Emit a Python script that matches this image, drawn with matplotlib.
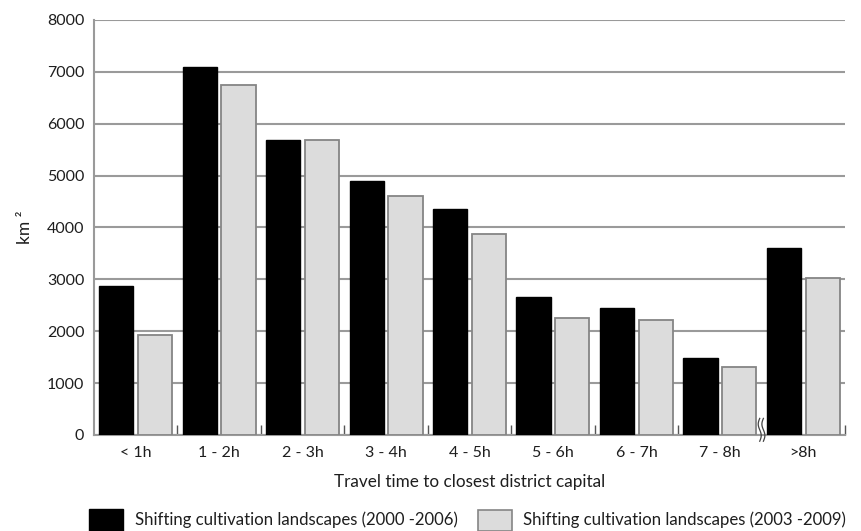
import matplotlib
matplotlib.use("Agg")
import matplotlib.pyplot as plt
import matplotlib.patches as mpatches
import matplotlib.transforms as mtrans
import numpy as np

plt.rcParams['font.family'] = ['Lato', 'DejaVu Sans']

categories = ["< 1h", "1 - 2h", "2 - 3h", "3 - 4h", "4 - 5h", "5 - 6h", "6 - 7h", "7 - 8h", ">8h"]
series_2000_2006 = [2880, 7100, 5680, 4900, 4350, 2660, 2450, 1480, 3600]
series_2003_2009 = [1920, 6750, 5680, 4600, 3880, 2250, 2220, 1320, 3020]
label_a = "Shifting cultivation landscapes (2000 -2006)"
label_b = "Shifting cultivation landscapes (2003 -2009)"
y_ticks = [0, 1000, 2000, 3000, 4000, 5000, 6000, 7000, 8000]

TXT = '#1e1e1e'
fig = plt.figure(figsize=(8.62, 5.31), dpi=100)
ax = fig.add_axes([94/862, 1-435/531, (845-94)/862, (435-20)/531])

x = np.arange(len(categories))
w = 0.41
off = 0.232
ax.bar(x - off, series_2000_2006, width=w, color='black', edgecolor='black', linewidth=1, zorder=3)
ax.bar(x + off, series_2003_2009, width=w, color='#dcdcdc', edgecolor='#858585', linewidth=1.3, zorder=3)

ax.set_xlim(-0.5, len(categories) - 0.5)
ax.set_ylim(0, 8000)
ax.set_yticks(y_ticks)
ax.set_yticklabels([str(v) for v in y_ticks], fontsize=11.5, color=TXT)
ax.yaxis.grid(True, color='#9a9a9a', linewidth=1.5, zorder=0)
ax.set_axisbelow(True)
ax.tick_params(axis='y', length=0, pad=7)

ax.set_xticks(x)
ax.set_xticklabels(categories, fontsize=11.5, color=TXT)
ax.tick_params(axis='x', length=0, pad=8)
bounds = [i + 0.5 for i in range(len(categories) - 1) if i != 7] + [len(categories) - 0.5]
ax.set_xticks(bounds, minor=True)
ax.tick_params(axis='x', which='minor', direction='in', length=7, width=1.0, color='#555555')

for s in ['top', 'right']:
    ax.spines[s].set_visible(False)
for s in ['left', 'bottom']:
    ax.spines[s].set_color('#9a9a9a')
    ax.spines[s].set_linewidth(1.5)

# axis break mark
trans = mtrans.blended_transform_factory(ax.transData, ax.transAxes)
t = np.linspace(0, 1, 20)
for dx in (-0.022, 0.022):
    xs = 7.5 + dx + 0.018 * np.sin(t * 2 * np.pi)
    ys = -0.015 + t * 0.055
    ax.plot(xs, ys, color='#444444', linewidth=0.9, transform=trans, clip_on=False, zorder=5)

ax.set_ylabel("km ²", fontsize=12.5, color=TXT, labelpad=10)
ax.set_xlabel("Travel time to closest district capital", fontsize=12.3, color=TXT, labelpad=10)

# legend
fig.patches.append(mpatches.Rectangle((89/862, 1-531/531), 34/862, 22/531,
                                      transform=fig.transFigure, facecolor='black', edgecolor='black'))
fig.text(135/862, 1-520/531, label_a, fontsize=12.1, va='center', ha='left', color=TXT)
fig.patches.append(mpatches.Rectangle((478/862, 1-531/531), 34/862, 21/531,
                                      transform=fig.transFigure, facecolor='#dcdcdc', edgecolor='#858585',
                                      linewidth=1.2))
fig.text(523/862, 1-520/531, label_b, fontsize=12.1, va='center', ha='left', color=TXT)

fig.savefig("out.png", dpi=100)
